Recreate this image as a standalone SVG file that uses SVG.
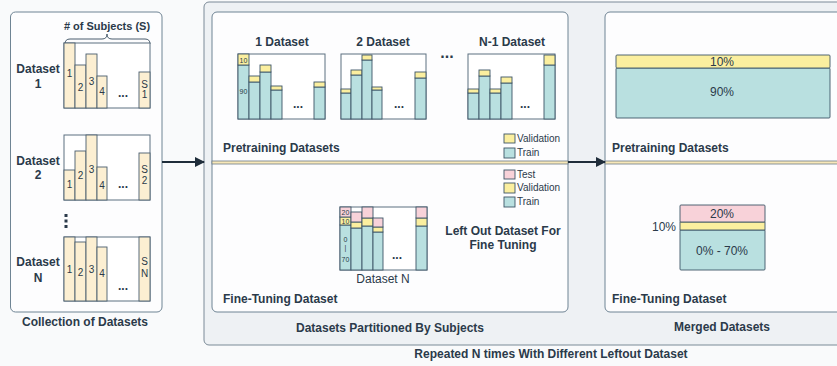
<svg xmlns="http://www.w3.org/2000/svg" width="837" height="366" viewBox="0 0 837 366">
<defs>
<marker id="arr" viewBox="0 0 10 10" refX="9" refY="5" markerWidth="5" markerHeight="5" orient="auto" markerUnits="strokeWidth">
<path d="M0,0 L10,5 L0,10 Z" fill="#1f2d3a"/>
</marker>
<style>
text{font-family:"Liberation Sans",Arial,sans-serif;fill:#2b3a4a}
.b{font-weight:bold;font-size:12px}
.m{text-anchor:middle}
.n{font-size:10px}
.s{font-size:7px}
.l{font-size:10px}
.panel{fill:#fdfdfe;stroke:#6f8494;stroke-width:1}
.box{fill:#ffffff;stroke:#5d7080;stroke-width:1}
.cr{fill:#fcefd2;stroke:#4a5d6e;stroke-width:0.9}
.te{fill:#b9e0e0;stroke:#3d5566;stroke-width:0.9}
.ye{fill:#fbef9f;stroke:#3d5566;stroke-width:0.9}
.pk{fill:#f8d2d9;stroke:#3d5566;stroke-width:0.9}
.dots{font-weight:bold;font-size:12px}
.div{fill:#f8e8b8;stroke:#6b7a88;stroke-width:0.8}
</style>
</defs>
<rect x="0" y="0" width="837" height="366" fill="#f9fafb"/>

<g id="outer">
<rect x="204" y="2" width="650" height="343" rx="5" fill="#eef1f4" stroke="#7b8a97" stroke-width="1"/>
<text class="b m" x="551" y="358">Repeated N times With Different Leftout Dataset</text>
</g>

<g id="collection">
<rect class="panel" x="10.5" y="12" width="151.5" height="300" rx="5"/>
<text class="b m" x="85" y="326">Collection of Datasets</text>
<text class="b m" x="107" y="30" style="font-size:11px"># of Subjects (S)</text>
<path d="M65,44 Q65,39 70,39 L102,39 Q107,39 107,34 Q107,39 112,39 L145,39 Q150,39 150,44" fill="none" stroke="#4a5d6e" stroke-width="1"/>
</g>

<g id="dataset1">
<text class="b m" x="38" y="73">Dataset</text>
<text class="b m" x="38" y="88">1</text>
<rect class="box" x="64" y="43" width="86" height="65"/>
<rect class="cr" x="64" y="43" width="11" height="65"/>
<rect class="cr" x="75" y="65" width="11" height="43"/>
<rect class="cr" x="86" y="54" width="11" height="54"/>
<rect class="cr" x="97" y="76" width="10" height="32"/>
<rect class="cr" x="139" y="72" width="11" height="36"/>
<text class="n m" x="69.5" y="77">1</text>
<text class="n m" x="80.5" y="91">2</text>
<text class="n m" x="91.5" y="85">3</text>
<text class="n m" x="102" y="95">4</text>
<text class="n m" x="144.5" y="88">S</text>
<text class="n m" x="144.5" y="98">1</text>
<text class="dots m" x="123" y="97">...</text>
</g>

<g id="dataset2">
<text class="b m" x="38" y="165">Dataset</text>
<text class="b m" x="38" y="179">2</text>
<rect class="box" x="64" y="135" width="86" height="65"/>
<rect class="cr" x="64" y="170" width="11" height="30"/>
<rect class="cr" x="75" y="151" width="11" height="49"/>
<rect class="cr" x="86" y="135" width="11" height="65"/>
<rect class="cr" x="97" y="167" width="10" height="33"/>
<rect class="cr" x="139" y="153" width="11" height="47"/>
<text class="n m" x="69.5" y="188">1</text>
<text class="n m" x="80.5" y="179">2</text>
<text class="n m" x="91.5" y="173">3</text>
<text class="n m" x="102" y="189">4</text>
<text class="n m" x="144.5" y="173">S</text>
<text class="n m" x="144.5" y="184">2</text>
<text class="dots m" x="123" y="188">...</text>
</g>

<g id="vdots" fill="#2b3a4a">
<rect x="64.5" y="214" width="3" height="3"/>
<rect x="64.5" y="219.5" width="3" height="3"/>
<rect x="64.5" y="225" width="3" height="3"/>
</g>

<g id="datasetN">
<text class="b m" x="38" y="266">Dataset</text>
<text class="b m" x="38" y="282">N</text>
<rect class="box" x="64" y="237" width="86" height="64"/>
<rect class="cr" x="64" y="237" width="11" height="64"/>
<rect class="cr" x="75" y="242" width="11" height="59"/>
<rect class="cr" x="86" y="237" width="11" height="64"/>
<rect class="cr" x="97" y="247" width="10" height="54"/>
<rect class="cr" x="139" y="237" width="11" height="64"/>
<text class="n m" x="69.5" y="273">1</text>
<text class="n m" x="80.5" y="276">2</text>
<text class="n m" x="91.5" y="273">3</text>
<text class="n m" x="102" y="277">4</text>
<text class="n m" x="144.5" y="265">S</text>
<text class="n m" x="144.5" y="277">N</text>
<text class="dots m" x="123" y="290">...</text>
</g>

<g id="partitioned">
<rect class="panel" x="212" y="12" width="356" height="300" rx="5"/>
<rect class="div" x="212" y="161" width="356" height="3"/>
<text class="b m" x="390" y="332">Datasets Partitioned By Subjects</text>
<text class="b" x="223" y="152">Pretraining Datasets</text>
<text class="b" x="223" y="303">Fine-Tuning Dataset</text>
</g>

<g id="chart1">
<text class="b m" x="282" y="46">1 Dataset</text>
<rect class="box" x="238" y="54" width="87" height="65"/>
<rect class="te" x="238" y="65" width="11" height="54"/><rect class="ye" x="238" y="54" width="11" height="11"/>
<rect class="te" x="249" y="82" width="11" height="37"/><rect class="ye" x="249" y="76" width="11" height="6"/>
<rect class="te" x="260" y="72" width="11" height="47"/><rect class="ye" x="260" y="65" width="11" height="7"/>
<rect class="te" x="271" y="90" width="11" height="29"/><rect class="ye" x="271" y="86" width="11" height="4"/>
<rect class="te" x="314" y="87" width="11" height="32"/><rect class="ye" x="314" y="82" width="11" height="5"/>
<text class="s m" x="243.5" y="62.5">10</text>
<text class="s m" x="243.5" y="93.5">90</text>
<text class="dots m" x="298" y="108">...</text>
</g>

<g id="chart2">
<text class="b m" x="383" y="46">2 Dataset</text>
<rect class="box" x="341" y="54" width="85" height="65"/>
<rect class="te" x="341" y="93" width="10" height="26"/><rect class="ye" x="341" y="89" width="10" height="4"/>
<rect class="te" x="351" y="75" width="11" height="44"/><rect class="ye" x="351" y="70" width="11" height="5"/>
<rect class="te" x="362" y="60" width="10" height="59"/><rect class="ye" x="362" y="55" width="10" height="5"/>
<rect class="te" x="372" y="90" width="10" height="29"/><rect class="ye" x="372" y="87" width="10" height="3"/>
<rect class="te" x="415" y="78" width="11" height="41"/><rect class="ye" x="415" y="72" width="11" height="6"/>
<text class="dots m" x="399" y="108">...</text>
</g>

<text class="m" x="447" y="58" style="font-weight:bold;font-size:16px">...</text>

<g id="chartN1">
<text class="b m" x="512" y="46">N-1 Dataset</text>
<rect class="box" x="468" y="54" width="87" height="65"/>
<rect class="te" x="468" y="93" width="11" height="26"/><rect class="ye" x="468" y="89" width="11" height="4"/>
<rect class="te" x="479" y="76" width="11" height="43"/><rect class="ye" x="479" y="70" width="11" height="6"/>
<rect class="te" x="490" y="93" width="11" height="26"/><rect class="ye" x="490" y="89" width="11" height="4"/>
<rect class="te" x="501" y="83" width="11" height="36"/><rect class="ye" x="501" y="77" width="11" height="6"/>
<rect class="te" x="544" y="65" width="11" height="54"/><rect class="ye" x="544" y="55" width="11" height="10"/>
<text class="dots m" x="525" y="108">...</text>
</g>

<g id="legend1">
<rect class="ye" x="504" y="134" width="11" height="9"/>
<text class="l" x="517" y="142">Validation</text>
<rect class="te" x="504" y="148" width="11" height="10"/>
<text class="l" x="517" y="156">Train</text>
</g>

<g id="legend2">
<rect class="pk" x="504" y="170" width="11" height="9"/>
<text class="l" x="517" y="178">Test</text>
<rect class="ye" x="504" y="183" width="11" height="10"/>
<text class="l" x="517" y="191">Validation</text>
<rect class="te" x="504" y="197" width="11" height="10"/>
<text class="l" x="517" y="205">Train</text>
</g>

<g id="leftout">
<text class="b m" x="503" y="235">Left Out Dataset For</text>
<text class="b m" x="503" y="249">Fine Tuning</text>
</g>

<g id="chartN">
<rect class="box" x="340" y="207" width="87" height="63"/>
<rect class="te" x="340" y="225" width="11" height="45"/><rect class="ye" x="340" y="217" width="11" height="8"/><rect class="pk" x="340" y="207" width="11" height="10"/>
<rect class="te" x="351" y="228" width="11" height="42"/><rect class="ye" x="351" y="222" width="11" height="6"/><rect class="pk" x="351" y="212" width="11" height="10"/>
<rect class="te" x="362" y="226" width="11" height="44"/><rect class="ye" x="362" y="218" width="11" height="8"/><rect class="pk" x="362" y="207" width="11" height="11"/>
<rect class="te" x="373" y="232" width="10" height="38"/><rect class="ye" x="373" y="227" width="10" height="5"/><rect class="pk" x="373" y="218" width="10" height="9"/>
<rect class="te" x="416" y="226" width="11" height="44"/><rect class="ye" x="416" y="218" width="11" height="8"/><rect class="pk" x="416" y="207" width="11" height="11"/>
<text class="s m" x="345.5" y="215">20</text>
<text class="s m" x="345.5" y="223.5">10</text>
<text class="s m" x="345.5" y="242">0</text>
<text class="s m" x="345.5" y="250">|</text>
<text class="s m" x="345.5" y="262">70</text>
<text class="dots m" x="397" y="259">...</text>
<text class="m" x="383" y="283" style="font-size:12px">Dataset N</text>
</g>

<g id="merged">
<rect class="panel" x="605" y="12" width="250" height="300" rx="5"/>
<rect class="div" x="605" y="161" width="250" height="3"/>
<text class="b m" x="722" y="331">Merged Datasets</text>
<text class="b" x="612" y="152">Pretraining Datasets</text>
<text class="b" x="612" y="303">Fine-Tuning Dataset</text>
</g>

<g id="mergedPre">
<rect class="te" x="616" y="68" width="214" height="50" rx="1"/>
<rect class="ye" x="616" y="55" width="214" height="13" rx="1"/>
<text class="m" x="722" y="66" style="font-size:12px">10%</text>
<text class="m" x="722" y="96" style="font-size:12px">90%</text>
</g>

<g id="mergedFine">
<rect class="te" x="680" y="230" width="85" height="40" rx="1"/>
<rect class="ye" x="680" y="222" width="85" height="8"/>
<rect class="pk" x="680" y="205" width="85" height="17" rx="1"/>
<text class="m" x="722" y="218" style="font-size:12px">20%</text>
<text style="font-size:12px;text-anchor:end" x="676" y="231">10%</text>
<text class="m" x="722" y="255" style="font-size:12px">0% - 70%</text>
</g>

<g id="connectors" stroke="#1f2d3a" stroke-width="2" fill="none">
<line x1="162" y1="162" x2="204" y2="162" marker-end="url(#arr)"/>
<line x1="568" y1="162" x2="605" y2="162" marker-end="url(#arr)"/>
</g>
</svg>
